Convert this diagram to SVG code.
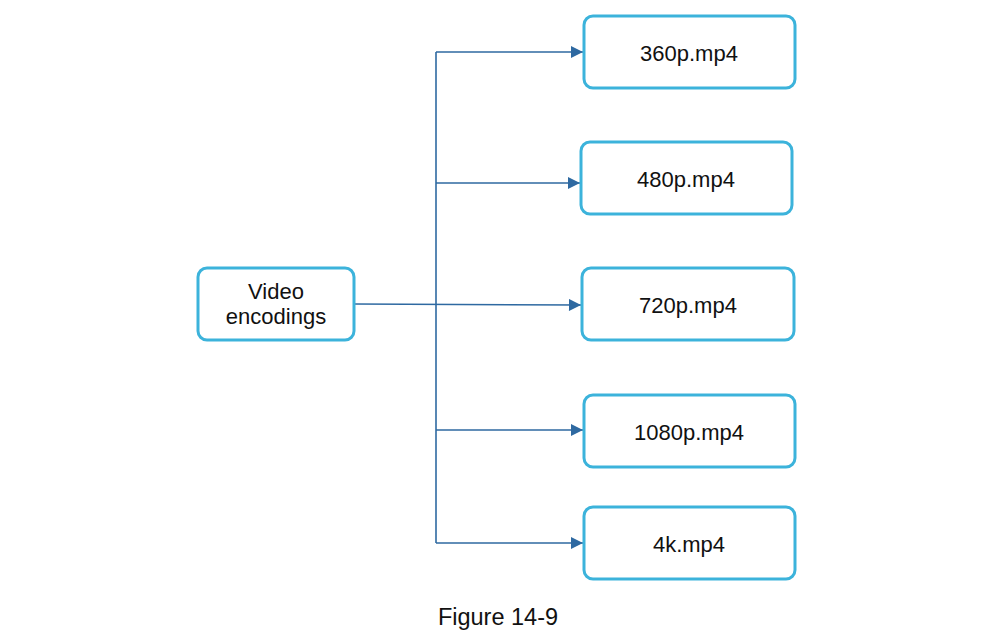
<svg xmlns="http://www.w3.org/2000/svg" width="1002" height="640" viewBox="0 0 1002 640">
<style>
.box{fill:#fff;stroke:#3cb3db;stroke-width:3}
.lbl{font-family:"Liberation Sans",Arial,sans-serif;font-size:22px;fill:#111;text-anchor:middle}
.ln{fill:none;stroke:#2e69a1;stroke-width:1.6}
</style>
<defs>
<marker id="arr" viewBox="0 0 10 10" refX="10" refY="5" markerWidth="13" markerHeight="12" markerUnits="userSpaceOnUse" orient="auto">
<path d="M0,0 L10,5 L0,10 z" fill="#2e69a1"/>
</marker>
</defs>
<rect width="1002" height="640" fill="#fff"/>
<g id="connectors">
<path class="ln" d="M436,52 V543"/>
<path class="ln" d="M436,52 H583" marker-end="url(#arr)"/>
<path class="ln" d="M436,183 H580" marker-end="url(#arr)"/>
<path class="ln" d="M354,304 L581,305" marker-end="url(#arr)"/>
<path class="ln" d="M436,430 H583" marker-end="url(#arr)"/>
<path class="ln" d="M436,543 H583" marker-end="url(#arr)"/>
</g>
<g id="video">
<rect class="box" x="198" y="268" width="156" height="72" rx="9"/>
<text class="lbl" x="276" y="299">Video</text>
<text class="lbl" x="276" y="324">encodings</text>
</g>
<g id="n360">
<rect class="box" x="584" y="16" width="211" height="72" rx="9"/>
<text class="lbl" x="689" y="60.5">360p.mp4</text>
</g>
<g id="n480">
<rect class="box" x="581" y="142" width="211" height="72" rx="9"/>
<text class="lbl" x="686" y="187">480p.mp4</text>
</g>
<g id="n720">
<rect class="box" x="582" y="268" width="212" height="72" rx="9"/>
<text class="lbl" x="688" y="313">720p.mp4</text>
</g>
<g id="n1080">
<rect class="box" x="584" y="395" width="211" height="72" rx="9"/>
<text class="lbl" x="689" y="440">1080p.mp4</text>
</g>
<g id="n4k">
<rect class="box" x="584" y="507" width="211" height="72" rx="9"/>
<text class="lbl" x="689" y="552">4k.mp4</text>
</g>
<text class="lbl" x="498" y="625" style="font-size:23.5px">Figure 14-9</text>
</svg>
